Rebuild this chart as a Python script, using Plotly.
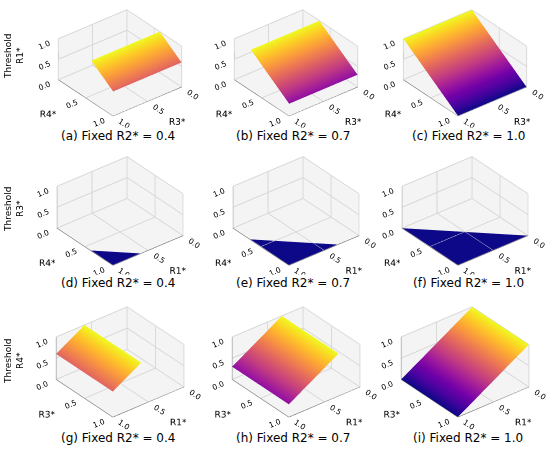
import plotly.graph_objects as go

# fixed R2* per column
r2_fixed = [0.4, 0.7, 1.0]
panel_tags = ['a', 'b', 'c', 'd', 'e', 'f', 'g', 'h', 'i']
row_names = ['R1*', 'R3*', 'R4*']
left_axis_names = ['R4*', 'R4*', 'R3*']
right_axis_names = ['R3*', 'R1*', 'R1*']

# row 1: threshold R1* over (R3*, R4*), plane only where it stays <= 1
r1_r4_start = [0.6, 0.3, 0.0]   # R4* at which the plane starts (R1* = 1 there)
r1_top = [1.0, 1.0, 1.0]
r1_bottom = [0.6, 0.3, 0.0]     # R1* at R4* = 1
r3_span = [0.0, 1.0]

# row 2: threshold R3* is zero on a triangle at the R1* = R4* = 1 corner
r3_corner = [0.6, 0.3, 0.0]
r3_level = [0.0, 0.0, 0.0]

# row 3: threshold R4* over (R1*, R3*)
r4_r1_start = [0.6, 0.3, 0.0]
r4_top = [1.0, 1.0, 1.0]
r4_bottom = [0.6, 0.3, 0.0]     # R4* at R1* = 1

W, H = 550, 449
# scene boxes in pixels (left, right) and (top, bottom)
col_px = [(30, 210), (206, 386), (380, 550)]
row_px = [(0, 135), (142, 280), (292, 432)]
row_shift = [-0.08, 0.0, 0.0]     # camera lift to nudge the top row up
title_x = [118, 293, 468]
title_y = [136, 283, 438]
label_y = [57, 210, 362]

flat = dict(ambient=1, diffuse=0, specular=0, roughness=1, fresnel=0)
view = (0.529, 0.662, 0.530)
dist = 2.2
box = 1.3

fig = go.Figure()

for c in range(3):
    # row 1
    fig.add_trace(go.Surface(
        x=r3_span, y=[r1_r4_start[c], 1.0],
        z=[[r1_top[c], r1_top[c]], [r1_bottom[c], r1_bottom[c]]],
        surfacecolor=[[r1_top[c], r1_top[c]], [r1_bottom[c], r1_bottom[c]]],
        colorscale='Plasma', cmin=0, cmax=1, showscale=False,
        lighting=flat, hoverinfo='skip', scene='scene%d' % (c + 1)
    ))
    # row 2
    fig.add_trace(go.Mesh3d(
        x=[1.0, r3_corner[c], 1.0], y=[r3_corner[c], 1.0, 1.0],
        z=[r3_level[c]] * 3, i=[0], j=[1], k=[2],
        color='#0d0887', flatshading=True, lighting=flat,
        hoverinfo='skip', scene='scene%d' % (c + 4)
    ))
    # row 3
    fig.add_trace(go.Surface(
        x=[r4_r1_start[c], 1.0], y=r3_span,
        z=[[r4_top[c], r4_bottom[c]], [r4_top[c], r4_bottom[c]]],
        surfacecolor=[[r4_top[c], r4_bottom[c]], [r4_top[c], r4_bottom[c]]],
        colorscale='Plasma', cmin=0, cmax=1, showscale=False,
        lighting=flat, hoverinfo='skip', scene='scene%d' % (c + 7)
    ))


def axis(title):
    return dict(
        title=dict(text=title, font=dict(size=9)),
        range=[0, 1], tickvals=[0, 0.5, 1.0], tickformat='.1f',
        tickfont=dict(size=9.5), showbackground=True,
        backgroundcolor='rgb(244,244,244)', gridcolor='rgb(214,214,214)',
        showline=True, linecolor='rgb(90,90,90)', zeroline=False,
        showspikes=False, ticks='', ticklen=0
    )


annotations = []
for r in range(3):
    for c in range(3):
        n = r * 3 + c + 1
        x0, x1 = col_px[c]
        y0, y1 = row_px[r]
        lift = row_shift[r]
        scene = dict(
            domain=dict(x=[x0 / W, x1 / W], y=[1 - y1 / H, 1 - y0 / H]),
            xaxis=axis(right_axis_names[r]),
            yaxis=axis(left_axis_names[r]),
            zaxis=axis(''),
            aspectmode='manual', aspectratio=dict(x=box, y=box, z=0.55 * box),
            camera=dict(
                eye=dict(x=view[0] * dist, y=view[1] * dist, z=view[2] * dist + lift),
                center=dict(x=0, y=0, z=lift),
                projection=dict(type='orthographic'),
            ),
        )
        fig.layout['scene%d' % n] = scene
        annotations.append(dict(
            text='(%s) Fixed R2* = %.1f' % (panel_tags[n - 1], r2_fixed[c]),
            x=title_x[c] / W, y=1 - title_y[r] / H, xref='paper', yref='paper',
            showarrow=False, font=dict(size=12, color='black'),
            xanchor='center', yanchor='middle', bgcolor='white'
        ))
    annotations.append(dict(
        text='Threshold<br>' + row_names[r], textangle=-90,
        x=14 / W, y=1 - label_y[r] / H, xref='paper', yref='paper',
        showarrow=False, font=dict(size=9, color='black'),
        xanchor='center', yanchor='middle'
    ))

fig.update_layout(
    width=W, height=H,
    margin=dict(l=0, r=0, t=0, b=0),
    paper_bgcolor='white',
    font=dict(family='DejaVu Sans', color='black'),
    annotations=annotations,
    showlegend=False,
)

fig.write_html('out.html', config={'displayModeBar': False},
               post_script="document.body.style.margin='0px';")
